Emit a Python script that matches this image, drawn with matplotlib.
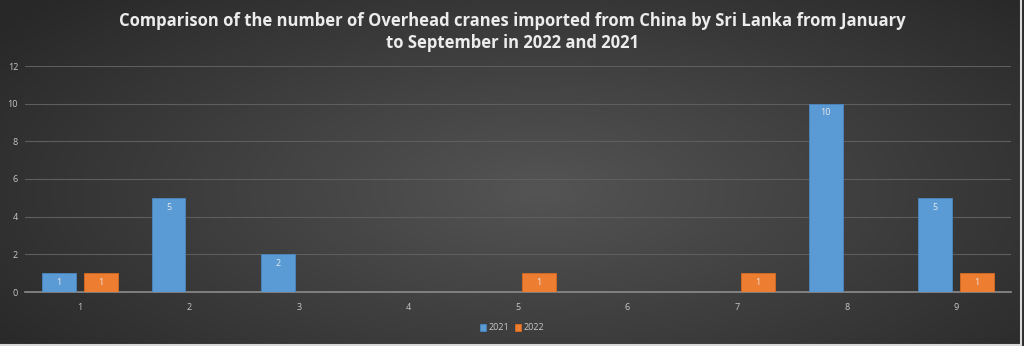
import numpy as np
import matplotlib.pyplot as plt

months = [1, 2, 3, 4, 5, 6, 7, 8, 9]
cranes_2021 = [1, 5, 2, 0, 0, 0, 0, 10, 5]
cranes_2022 = [1, 0, 0, 0, 1, 0, 1, 0, 1]

blue = '#5b9bd5'
orange = '#ed7d31'
text_col = '#c8c8c8'

plt.rcParams['font.family'] = ['Open Sans', 'DejaVu Sans']

fig = plt.figure(figsize=(10.24, 3.46), dpi=100)

# dark radial background, lighter towards the middle
bg = fig.add_axes([0, 0, 1, 1], zorder=-10)
yy, xx = np.mgrid[0:346, 0:1024]
r = np.sqrt(((xx - 540) / 620.0) ** 2 + ((yy - 190) / 260.0) ** 2)
shade = np.clip(0.33 - 0.16 * r, 0.16, 0.33)
bg.imshow(np.dstack([shade, shade, shade]), aspect='auto', extent=[0, 1, 0, 1])
bg.axis('off')
# thin light frame at the bottom and right edge
fig.add_artist(plt.Line2D([0, 0.997], [0.004, 0.004], color='#d9d9d9', lw=1.5, transform=fig.transFigure))
fig.add_artist(plt.Line2D([0.997, 0.997], [0.004, 1], color='#d9d9d9', lw=1.5, transform=fig.transFigure))

ax = fig.add_axes([25 / 1024, 1 - 292 / 346, (1011 - 25) / 1024, (292 - 66) / 346])
ax.set_facecolor('none')

x = np.array(months)
w = 0.31
off = 0.19
b1 = ax.bar(x - off, cranes_2021, w, color=blue, edgecolor='#4a86c0', lw=0.6, label='2021', zorder=3)
b2 = ax.bar(x + off, cranes_2022, w, color=orange, edgecolor='#d86a20', lw=0.6, label='2022', zorder=3)

for bars, vals in ((b1, cranes_2021), (b2, cranes_2022)):
    for rect, v in zip(bars, vals):
        if v > 0:
            ax.text(rect.get_x() + rect.get_width() / 2, v - 0.25, str(v),
                    ha='center', va='top', fontsize=6.5, color='#e8e8e8', zorder=4)

ax.set_xlim(0.5, 9.5)
ax.set_ylim(0, 12)
ax.set_yticks(range(0, 13, 2))
ax.set_xticks(months)
ax.tick_params(axis='both', length=0, labelsize=6.5, colors=text_col)
ax.tick_params(axis='x', pad=8)
ax.tick_params(axis='y', pad=5)
ax.grid(axis='y', color='#5e5e5e', lw=0.8, zorder=0)
for s in ['top', 'right', 'left']:
    ax.spines[s].set_visible(False)
ax.spines['bottom'].set_color('#8c8c8c')
ax.spines['bottom'].set_linewidth(1.2)

fig.text(0.5, 0.965, 'Comparison of the number of Overhead cranes imported from China by Sri Lanka from January\nto September in 2022 and 2021',
         ha='center', va='top', fontsize=12, fontweight='bold', color='#ececec', linespacing=1.3)

leg = fig.legend(handles=[b1, b2], loc='center', bbox_to_anchor=(0.5, 1 - 328 / 346), ncol=2,
                 frameon=False, fontsize=6.5, handlelength=0.7, handleheight=0.7,
                 handletextpad=0.3, columnspacing=0.6)
for t in leg.get_texts():
    t.set_color(text_col)

fig.savefig('out.png', dpi=100)
